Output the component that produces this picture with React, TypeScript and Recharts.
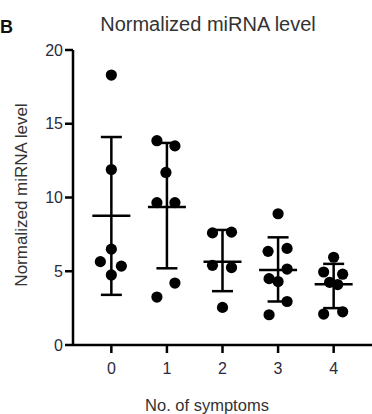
import React from "react";
import {
  ComposedChart,
  Scatter,
  XAxis,
  YAxis,
  ErrorBar,
  Customized,
} from "recharts";

// ---- data ----
const categories = [0, 1, 2, 3, 4];
const yTicks = [0, 5, 10, 15, 20];

const group0 = [18.3, 11.9, 6.5, 5.65, 5.35, 4.75];
const group1 = [13.85, 13.5, 11.7, 9.65, 9.65, 4.2, 3.25];
const group2 = [7.6, 7.65, 5.4, 5.25, 2.55];
const group3 = [8.9, 6.35, 6.55, 5.15, 4.5, 4.3, 2.95, 2.05];
const group4 = [5.95, 4.95, 4.8, 4.25, 4.1, 2.1, 2.25];

const means = [8.77, 9.36, 5.65, 5.08, 4.12];
const upperWhisker = [14.1, 13.7, 7.8, 7.3, 5.5];
const lowerWhisker = [3.4, 5.2, 3.65, 2.95, 2.5];

const title = "Normalized miRNA level";
const yLabel = "Normalized miRNA level";
const xLabel = "No. of symptoms";
const panelLetter = "B";

// horizontal spread of the dots (pixels), layout only
const spread = [
  [0, 0, 0, -11, 10, 0],
  [-10, 8, -1, -10, 8, 8, -10],
  [-10, 9, -10, 9, 0],
  [0, -10, 9, 9, -9, 0, 9, -9],
  [0, -10, 9, -4, 4, -10, 9],
];

const groups = [group0, group1, group2, group3, group4];

const dotData = groups.flatMap((vals, gi) =>
  vals.map((v, i) => ({ x: categories[gi], y: v, j: spread[gi][i] }))
);

const meanData = categories.map((c, i) => ({
  x: c,
  y: means[i],
  err: [means[i] - lowerWhisker[i], upperWhisker[i] - means[i]],
}));

const FONT = "'Liberation Sans', Arial, Helvetica, sans-serif";
const TICK_COLOR = "#2b2b40";

const Dot = (props: any) => {
  const { cx, cy, payload } = props;
  if (cx == null || cy == null) return null;
  return <circle cx={cx + (payload?.j || 0)} cy={cy} r={5.6} fill="#000" />;
};

const MeanLine = (props: any) => {
  const { cx, cy } = props;
  if (cx == null || cy == null) return null;
  return (
    <line x1={cx - 19} x2={cx + 19} y1={cy} y2={cy} stroke="#000" strokeWidth={2.5} />
  );
};

const Texts = () => (
  <g style={{ fontFamily: FONT }}>
    <text x={0} y={33} fontSize={18} fontWeight="bold" fill="#111">
      {panelLetter}
    </text>
    <text x={208} y={30.5} fontSize={20} textAnchor="middle" fill="#333">
      {title}
    </text>
    <text
      x={27}
      y={195}
      fontSize={17}
      textAnchor="middle"
      fill="#333"
      transform="rotate(-90, 27, 195)"
    >
      {yLabel}
    </text>
    <text x={207} y={411} fontSize={16.5} textAnchor="middle" fill="#333">
      {xLabel}
    </text>
  </g>
);

export default function App() {
  return (
    <div style={{ position: "absolute", left: 0, top: 0, background: "#fff" }}>
      <ComposedChart
        width={372}
        height={414}
        margin={{ top: 50, right: 0, bottom: 39, left: 0 }}
        style={{ fontFamily: FONT }}
      >
        <XAxis
          type="number"
          dataKey="x"
          domain={[-0.69, 4.69]}
          ticks={categories}
          allowDataOverflow
          height={30}
          axisLine={{ stroke: "#000", strokeWidth: 2.5 }}
          tickLine={{ stroke: "#000", strokeWidth: 2.5 }}
          tickSize={8}
          tickMargin={10}
          tick={{ fill: TICK_COLOR, fontSize: 16, fontFamily: FONT }}
        />
        <YAxis
          type="number"
          dataKey="y"
          domain={[0, 20]}
          ticks={yTicks}
          allowDataOverflow
          width={73}
          axisLine={{ stroke: "#000", strokeWidth: 2.5 }}
          tickLine={{ stroke: "#000", strokeWidth: 2.5 }}
          tickSize={8}
          tickMargin={2}
          tick={{ fill: TICK_COLOR, fontSize: 16, fontFamily: FONT }}
        />
        <Scatter data={meanData} shape={<MeanLine />} isAnimationActive={false}>
          <ErrorBar
            dataKey="err"
            direction="y"
            width={10.5}
            stroke="#000"
            strokeWidth={2.5}
            isAnimationActive={false}
          />
        </Scatter>
        <Scatter data={dotData} shape={<Dot />} isAnimationActive={false} />
        <Customized component={Texts} />
      </ComposedChart>
    </div>
  );
}
